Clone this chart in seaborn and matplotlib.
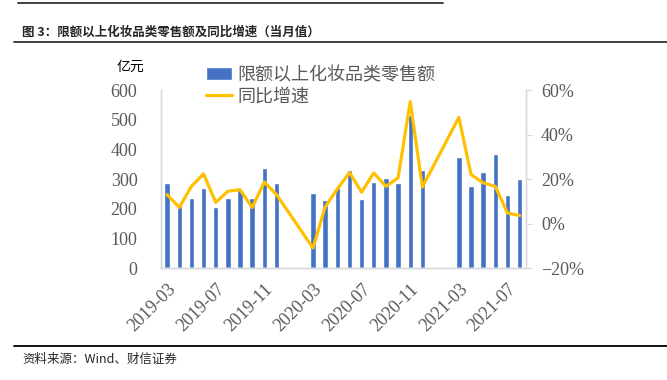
import numpy as np
import pandas as pd
import matplotlib
matplotlib.use('Agg')
import matplotlib.pyplot as plt
from matplotlib.ticker import FuncFormatter, MultipleLocator
import seaborn as sns

# 月份（2020、2021 年的 1-2 月合并公布，故为空）
meses = ['2019-03', '2019-04', '2019-05', '2019-06', '2019-07', '2019-08', '2019-09',
         '2019-10', '2019-11', '2019-12', '2020-01', '2020-02', '2020-03', '2020-04',
         '2020-05', '2020-06', '2020-07', '2020-08', '2020-09', '2020-10', '2020-11',
         '2020-12', '2021-01', '2021-02', '2021-03', '2021-04', '2021-05', '2021-06',
         '2021-07', '2021-08']
# 限额以上化妆品类零售额（亿元）
vendas = [285, 211, 237, 270, 207, 237, 262, 237, 336, 285, np.nan, np.nan, 254, 228,
          273, 332, 234, 290, 302, 288, 516, 329, np.nan, np.nan, 374, 277, 324, 385,
          245, 299]
# 同比增速（%）
cresc = [13.0, 7.2, 16.7, 22.3, 9.5, 14.5, 15.2, 7.2, 18.6, 13.0, np.nan, np.nan, -11.0, 7.4,
         15.5, 22.9, 14.1, 22.7, 16.7, 20.5, 54.8, 16.4, np.nan, np.nan, 47.7, 22.0, 18.3, 16.7,
         4.7, 3.6]
rotulos_x = meses[::4]

nome_barra = '限额以上化妆品类零售额'
nome_linha = '同比增速'
cinza = '#595959'

sns.set_style('white')
plt.rcParams['font.family'] = ['Noto Sans CJK SC', 'DejaVu Sans']

df = pd.DataFrame({'mes': meses, 'venda': vendas, 'cresc': cresc})
df['pos'] = np.arange(len(df))

fig = plt.figure(figsize=(6.67, 3.80), dpi=100)
ax = fig.add_axes([0.2414, 0.2947, 0.5468, 0.4684])
ax2 = ax.twinx()

# barras
sns.barplot(data=df.dropna(subset=['venda']), x='mes', y='venda', order=meses,
            color='#4472C4', saturation=1, width=0.45, ax=ax, label=nome_barra)

# linha (liga os pontos por cima dos meses em falta)
df_l = df.dropna(subset=['cresc'])
sns.lineplot(x=df_l['pos'], y=df_l['cresc'], ax=ax2, color='#FFC000', linewidth=2.3,
             label=nome_linha, legend=False)

ax.set_xlim(-0.5, len(meses) - 0.5)
ax.set_ylim(0, 600)
ax.yaxis.set_major_locator(MultipleLocator(100))
ax2.set_ylim(-20, 60)
ax2.yaxis.set_major_locator(MultipleLocator(20))
ax2.yaxis.set_major_formatter(FuncFormatter(lambda v, p: f'{v:.0f}%'.replace('-', '\u2212')))

ax.set_xticks(np.arange(0, len(meses), 4))
ax.set_xticklabels(rotulos_x, rotation=45, ha='right', va='top', rotation_mode='anchor')
ax.set_xlabel('')
ax.set_ylabel('')
ax2.set_xlabel('')
ax2.set_ylabel('')

for eixo in (ax, ax2):
    for s in eixo.spines.values():
        s.set_color('#D9D9D9')
        s.set_linewidth(1)
    eixo.spines['top'].set_visible(False)
    for t in eixo.get_xticklabels() + eixo.get_yticklabels():
        t.set_fontfamily(['Liberation Serif'])
        t.set_fontsize(13)
        t.set_color(cinza)

ax.tick_params(axis='x', length=0, pad=9)
ax.tick_params(axis='y', length=0, pad=17)
ax2.tick_params(axis='y', length=4, color='#D9D9D9', pad=7, direction='out')

# legenda
h1, l1 = ax.get_legend_handles_labels()
h2, l2 = ax2.get_legend_handles_labels()
ax.legend_ and ax.legend_.remove()
leg = fig.legend(h1 + h2, l1 + l2, loc='upper left', bbox_to_anchor=(0.298, 0.845),
                 frameon=False, fontsize=13, handlelength=1.45, handletextpad=0.3,
                 labelspacing=0.2, borderaxespad=0)
for t in leg.get_texts():
    t.set_color(cinza)

fig.text(0.196, 0.824, '亿元', ha='center', va='center', fontsize=10, color='black')

# título e fonte
fig.text(0.033, 0.916, '图 3：限额以上化妆品类零售额及同比增速（当月值）', fontsize=9,
         fontweight='bold', va='center', ha='left')
fig.add_artist(plt.Line2D([0.021, 1.0], [0.889, 0.889], color='#333333', linewidth=1.3))
fig.add_artist(plt.Line2D([0.027, 0.664], [0.991, 0.991], color='#333333', linewidth=1.3))
fig.add_artist(plt.Line2D([0.021, 1.0], [0.0903, 0.0903], color='black', linewidth=1.3))
fig.text(0.033, 0.055, '资料来源：Wind、财信证券', fontsize=9, style='italic',
         va='center', ha='left')

fig.savefig('out.png', dpi=100)
